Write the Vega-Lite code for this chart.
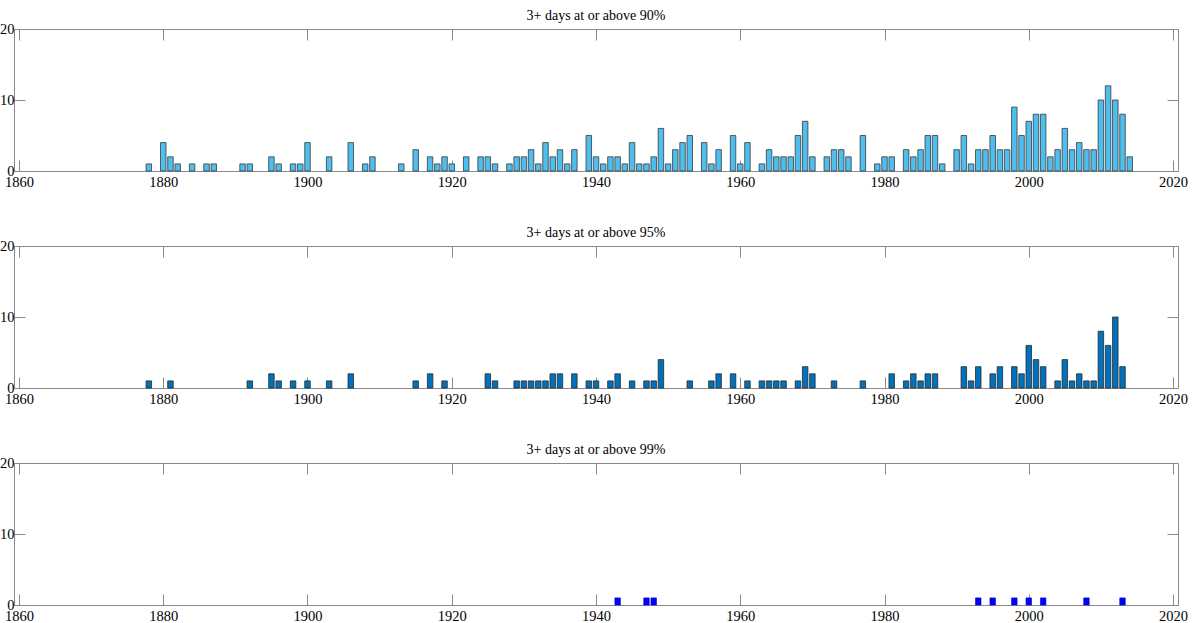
{
  "$schema": "https://vega.github.io/schema/vega-lite/v6.json",
  "padding": {"left": -1, "top": 8, "right": 5, "bottom": 5},
  "background": "white",
  "datasets": {
    "p90": [
      {"year":1878,"count":1},{"year":1880,"count":4},{"year":1881,"count":2},{"year":1882,"count":1},{"year":1884,"count":1},{"year":1886,"count":1},{"year":1887,"count":1},{"year":1891,"count":1},{"year":1892,"count":1},{"year":1895,"count":2},{"year":1896,"count":1},{"year":1898,"count":1},{"year":1899,"count":1},{"year":1900,"count":4},{"year":1903,"count":2},{"year":1906,"count":4},{"year":1908,"count":1},{"year":1909,"count":2},{"year":1913,"count":1},{"year":1915,"count":3},{"year":1917,"count":2},{"year":1918,"count":1},{"year":1919,"count":2},{"year":1920,"count":1},{"year":1922,"count":2},{"year":1924,"count":2},{"year":1925,"count":2},{"year":1926,"count":1},{"year":1928,"count":1},{"year":1929,"count":2},{"year":1930,"count":2},{"year":1931,"count":3},{"year":1932,"count":1},{"year":1933,"count":4},{"year":1934,"count":2},{"year":1935,"count":3},{"year":1936,"count":1},{"year":1937,"count":3},{"year":1939,"count":5},{"year":1940,"count":2},{"year":1941,"count":1},{"year":1942,"count":2},{"year":1943,"count":2},{"year":1944,"count":1},{"year":1945,"count":4},{"year":1946,"count":1},{"year":1947,"count":1},{"year":1948,"count":2},{"year":1949,"count":6},{"year":1950,"count":1},{"year":1951,"count":3},{"year":1952,"count":4},{"year":1953,"count":5},{"year":1955,"count":4},{"year":1956,"count":1},{"year":1957,"count":3},{"year":1959,"count":5},{"year":1960,"count":1},{"year":1961,"count":4},{"year":1963,"count":1},{"year":1964,"count":3},{"year":1965,"count":2},{"year":1966,"count":2},{"year":1967,"count":2},{"year":1968,"count":5},{"year":1969,"count":7},{"year":1970,"count":2},{"year":1972,"count":2},{"year":1973,"count":3},{"year":1974,"count":3},{"year":1975,"count":2},{"year":1977,"count":5},{"year":1979,"count":1},{"year":1980,"count":2},{"year":1981,"count":2},{"year":1983,"count":3},{"year":1984,"count":2},{"year":1985,"count":3},{"year":1986,"count":5},{"year":1987,"count":5},{"year":1988,"count":1},{"year":1990,"count":3},{"year":1991,"count":5},{"year":1992,"count":1},{"year":1993,"count":3},{"year":1994,"count":3},{"year":1995,"count":5},{"year":1996,"count":3},{"year":1997,"count":3},{"year":1998,"count":9},{"year":1999,"count":5},{"year":2000,"count":7},{"year":2001,"count":8},{"year":2002,"count":8},{"year":2003,"count":2},{"year":2004,"count":3},{"year":2005,"count":6},{"year":2006,"count":3},{"year":2007,"count":4},{"year":2008,"count":3},{"year":2009,"count":3},{"year":2010,"count":10},{"year":2011,"count":12},{"year":2012,"count":10},{"year":2013,"count":8},{"year":2014,"count":2}
    ],
    "p95": [
      {"year":1878,"count":1},{"year":1881,"count":1},{"year":1892,"count":1},{"year":1895,"count":2},{"year":1896,"count":1},{"year":1898,"count":1},{"year":1900,"count":1},{"year":1903,"count":1},{"year":1906,"count":2},{"year":1915,"count":1},{"year":1917,"count":2},{"year":1919,"count":1},{"year":1925,"count":2},{"year":1926,"count":1},{"year":1929,"count":1},{"year":1930,"count":1},{"year":1931,"count":1},{"year":1932,"count":1},{"year":1933,"count":1},{"year":1934,"count":2},{"year":1935,"count":2},{"year":1937,"count":2},{"year":1939,"count":1},{"year":1940,"count":1},{"year":1942,"count":1},{"year":1943,"count":2},{"year":1945,"count":1},{"year":1947,"count":1},{"year":1948,"count":1},{"year":1949,"count":4},{"year":1953,"count":1},{"year":1956,"count":1},{"year":1957,"count":2},{"year":1959,"count":2},{"year":1961,"count":1},{"year":1963,"count":1},{"year":1964,"count":1},{"year":1965,"count":1},{"year":1966,"count":1},{"year":1968,"count":1},{"year":1969,"count":3},{"year":1970,"count":2},{"year":1973,"count":1},{"year":1977,"count":1},{"year":1981,"count":2},{"year":1983,"count":1},{"year":1984,"count":2},{"year":1985,"count":1},{"year":1986,"count":2},{"year":1987,"count":2},{"year":1991,"count":3},{"year":1992,"count":1},{"year":1993,"count":3},{"year":1995,"count":2},{"year":1996,"count":3},{"year":1998,"count":3},{"year":1999,"count":2},{"year":2000,"count":6},{"year":2001,"count":4},{"year":2002,"count":3},{"year":2004,"count":1},{"year":2005,"count":4},{"year":2006,"count":1},{"year":2007,"count":2},{"year":2008,"count":1},{"year":2009,"count":1},{"year":2010,"count":8},{"year":2011,"count":6},{"year":2012,"count":10},{"year":2013,"count":3}
    ],
    "p99": [
      {"year":1943,"count":1},{"year":1947,"count":1},{"year":1948,"count":1},{"year":1993,"count":1},{"year":1995,"count":1},{"year":1998,"count":1},{"year":2000,"count":1},{"year":2002,"count":1},{"year":2008,"count":1},{"year":2013,"count":1}
    ]
  },
  "spacing": 75,
  "bounds": "flush",
  "vconcat": [
    {
      "title": "3+ days at or above 90%",
      "width": 1164, "height": 142,
      "data": {"name": "p90"},
      "layer": [
        {
          "mark": {"type": "bar", "width": 5.5, "opacity": 0},
          "encoding": {
            "x": {"field": "year", "type": "quantitative", "scale": {"domain": [1860, 2020], "nice": false, "zero": false}, "axis": {"orient": "top", "labels": false, "values": [1860,1880,1900,1920,1940,1960,1980,2000,2020]}},
            "y": {"field": "count", "type": "quantitative", "scale": {"domain": [0, 20], "nice": false}, "axis": {"orient": "right", "labels": false, "values": [0,10,20]}}
          }
        },
        {
          "mark": {"type": "bar", "width": 5.5, "fill": "#4DBEEE", "stroke": "#3a3a3a", "strokeWidth": 0.8},
          "encoding": {
            "x": {"field": "year", "type": "quantitative", "scale": {"domain": [1860, 2020], "nice": false, "zero": false}, "axis": {"orient": "bottom", "format": "d", "values": [1860,1880,1900,1920,1940,1960,1980,2000,2020]}},
            "y": {"field": "count", "type": "quantitative", "scale": {"domain": [0, 20], "nice": false}, "axis": {"orient": "left", "labelPadding": 11, "values": [0,10,20]}}
          }
        }
      ]
    },
    {
      "title": "3+ days at or above 95%",
      "width": 1164, "height": 142,
      "data": {"name": "p95"},
      "layer": [
        {
          "mark": {"type": "bar", "width": 5.5, "opacity": 0},
          "encoding": {
            "x": {"field": "year", "type": "quantitative", "scale": {"domain": [1860, 2020], "nice": false, "zero": false}, "axis": {"orient": "top", "labels": false, "values": [1860,1880,1900,1920,1940,1960,1980,2000,2020]}},
            "y": {"field": "count", "type": "quantitative", "scale": {"domain": [0, 20], "nice": false}, "axis": {"orient": "right", "labels": false, "values": [0,10,20]}}
          }
        },
        {
          "mark": {"type": "bar", "width": 5.5, "fill": "#0072BD", "stroke": "#2a2a2a", "strokeWidth": 0.8},
          "encoding": {
            "x": {"field": "year", "type": "quantitative", "scale": {"domain": [1860, 2020], "nice": false, "zero": false}, "axis": {"orient": "bottom", "format": "d", "values": [1860,1880,1900,1920,1940,1960,1980,2000,2020]}},
            "y": {"field": "count", "type": "quantitative", "scale": {"domain": [0, 20], "nice": false}, "axis": {"orient": "left", "labelPadding": 11, "values": [0,10,20]}}
          }
        }
      ]
    },
    {
      "title": "3+ days at or above 99%",
      "width": 1164, "height": 142,
      "data": {"name": "p99"},
      "layer": [
        {
          "mark": {"type": "bar", "width": 5.5, "opacity": 0},
          "encoding": {
            "x": {"field": "year", "type": "quantitative", "scale": {"domain": [1860, 2020], "nice": false, "zero": false}, "axis": {"orient": "top", "labels": false, "values": [1860,1880,1900,1920,1940,1960,1980,2000,2020]}},
            "y": {"field": "count", "type": "quantitative", "scale": {"domain": [0, 20], "nice": false}, "axis": {"orient": "right", "labels": false, "values": [0,10,20]}}
          }
        },
        {
          "mark": {"type": "bar", "width": 5.5, "fill": "#0000FF", "stroke": "#0000c8", "strokeWidth": 0.6},
          "encoding": {
            "x": {"field": "year", "type": "quantitative", "scale": {"domain": [1860, 2020], "nice": false, "zero": false}, "axis": {"orient": "bottom", "format": "d", "values": [1860,1880,1900,1920,1940,1960,1980,2000,2020]}},
            "y": {"field": "count", "type": "quantitative", "scale": {"domain": [0, 20], "nice": false}, "axis": {"orient": "left", "labelPadding": 11, "values": [0,10,20]}}
          }
        }
      ]
    }
  ],
  "config": {
    "view": {"stroke": "#8a8a8a", "strokeWidth": 1},
    "axis": {
      "domain": false, "grid": false, "title": null,
      "tickColor": "#8a8a8a", "tickSize": -11, "tickWidth": 1,
      "labelPadding": 15, "labelFont": "Liberation Serif", "labelFontSize": 14.5,
      "labelColor": "#000000", "labelFlush": false, "labelOverlap": false
    },
    "title": {"font": "Liberation Serif", "fontSize": 14, "fontWeight": "normal", "color": "#000000", "offset": -2, "anchor": "middle"}
  }
}
